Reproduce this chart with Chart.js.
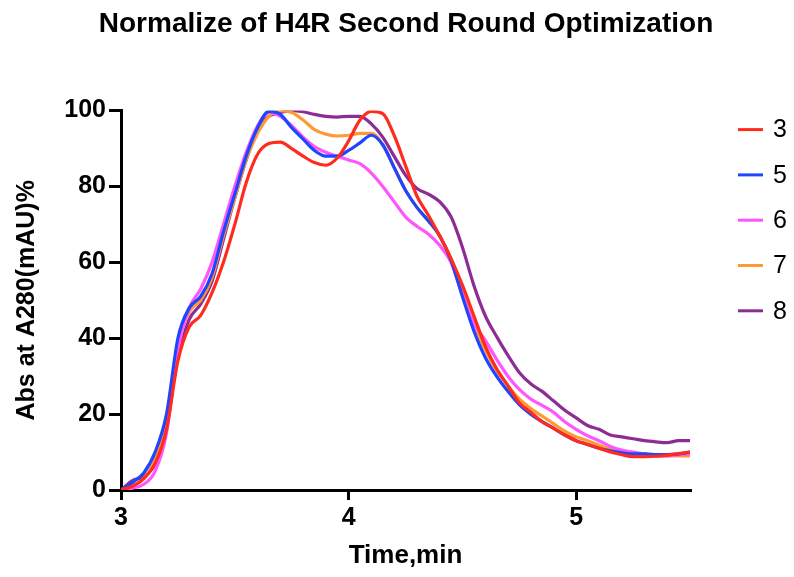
<!DOCTYPE html>
<html>
<head>
	<title>Normalize of H4R Second Round Optimization</title>
	<script src="https://cdn.jsdelivr.net/npm/chart.js@4.4.1/dist/chart.umd.min.js"></script>
	<style>
		body { margin: 0; background: #fff; }
		#wrap { width: 794px; height: 577px; }
	</style>
</head>
<body>
	<div id="wrap">
		<canvas id="chart"></canvas>
	</div>

	<script type="text/javascript">
		// elution time (min)
		var timeMin = [3.00, 3.05, 3.10, 3.15, 3.20, 3.25, 3.30, 3.35, 3.40, 3.45,
			3.50, 3.55, 3.60, 3.65, 3.70, 3.75, 3.80, 3.85, 3.90, 3.95,
			4.00, 4.05, 4.10, 4.15, 4.20, 4.25, 4.30, 4.35, 4.40, 4.45,
			4.50, 4.55, 4.60, 4.65, 4.70, 4.75, 4.80, 4.85, 4.90, 4.95,
			5.00, 5.05, 5.10, 5.15, 5.20, 5.25, 5.30, 5.35, 5.40, 5.45, 5.50];

		// normalized A280 (%) for each run
		var run3 = [0, 1, 3, 7, 16, 34, 43, 46, 52, 60,
			70, 81, 88.5, 91.3, 91.7, 90, 88, 86.3, 85.6, 87.5,
			92, 97.5, 99.8, 99.2, 93.5, 85.5, 77.5, 72.5, 67, 61,
			54, 46, 38, 32, 27.5, 23, 20.5, 18, 16.3, 14.5,
			13, 12, 11, 10, 9.3, 8.8, 8.8, 8.9, 9.2, 9.6, 10];
		var run5 = [0, 2, 4.5, 10, 20, 40, 48, 51, 57, 68,
			78, 88, 95.5, 99.8, 99, 95.5, 92.5, 89.5, 88, 88,
			89.5, 91.5, 93.5, 91, 85, 79, 74.5, 71, 67, 60.5,
			51, 42, 35, 30, 26, 22.5, 20, 18, 16.3, 14.5,
			13, 12, 11, 10.3, 9.8, 9.5, 9.5, 9.3, 9.3, 9.5, 10];
		var run6 = [0, 0.5, 1.5, 5, 15, 37, 48, 53, 60, 70,
			80, 89, 96, 99.5, 98.5, 96, 93, 90.5, 89, 88,
			87, 86, 83.5, 80, 76, 72, 69.5, 67.5, 64.5, 60,
			51.5, 44, 39.5, 34.5, 30, 26.5, 24, 22.3, 20.5, 18,
			16, 14.3, 13, 11.5, 10.5, 10, 9.5, 9, 9, 9.3, 9.5];
		var run7 = [0, 1, 3, 8, 18, 38, 47, 50, 56, 67,
			77, 87, 94, 98.5, 100, 99.5, 97.5, 95, 93.8, 93.3,
			93.5, 94, 94, 91, 85, 79, 74.5, 71, 67, 61,
			52, 44, 37, 31.5, 27.5, 24, 21.5, 19.5, 17.5, 15.5,
			14, 13, 11.8, 10.8, 10, 9.7, 9.5, 9.3, 9, 9, 9];
		var run8 = [0, 2.5, 3.5, 7, 17, 35, 45, 49, 55, 66,
			77, 87, 95, 98.5, 99.5, 100, 99.7, 99, 98.5, 98.3,
			98.5, 98.5, 96.5, 93, 88, 83, 79.5, 78, 76, 72,
			64, 54, 46, 40.5, 35.5, 31, 28, 26, 23.5, 21,
			19, 17, 16, 14.5, 14, 13.5, 13, 12.7, 12.5, 13, 13];

		var runNames = ['3', '5', '6', '7', '8'];
		var runColors = ['#ff2b1c', '#1f45ff', '#ff55ff', '#ff9933', '#8e2c96'];
		var runData = [run3, run5, run6, run7, run8];

		function toPoints(values) {
			return values.map(function (v, i) { return { x: timeMin[i], y: v }; });
		}

		var datasets = runData.map(function (values, i) {
			return {
				label: runNames[i],
				data: toPoints(values),
				borderColor: runColors[i],
				backgroundColor: runColors[i],
				borderWidth: 3.2,
				pointRadius: 0,
				fill: false,
				cubicInterpolationMode: 'monotone'
			};
		});

		// legend column on the right: reserves a layout box, then draws line + run number
		var sideLegend = {
			id: 'sideLegend',
			beforeInit: function (chart) {
				Chart.layouts.addBox(chart, {
					position: 'right',
					weight: 0,
					fullSize: false,
					options: {},
					isHorizontal: function () { return false; },
					update: function (maxWidth, maxHeight) {
						this.width = 104;
						this.height = maxHeight;
					},
					draw: function () {}
				});
			},
			afterDraw: function (chart) {
				var ctx = chart.ctx;
				var x0 = chart.chartArea.right + 48;
				ctx.save();
				ctx.font = '25px "Liberation Sans", Arial, sans-serif';
				ctx.textBaseline = 'middle';
				ctx.fillStyle = '#000';
				chart.data.datasets.forEach(function (ds, i) {
					var y = chart.chartArea.top + 19 + i * 45.3;
					ctx.strokeStyle = ds.borderColor;
					ctx.lineWidth = 3;
					ctx.beginPath();
					ctx.moveTo(x0, y);
					ctx.lineTo(x0 + 25, y);
					ctx.stroke();
					ctx.fillText(ds.label, x0 + 35, y + 1);
				});
				ctx.restore();
			}
		};

		Chart.defaults.font.family = '"Liberation Sans", Arial, sans-serif';
		Chart.defaults.color = '#000';

		var config = {
			type: 'line',
			data: { datasets: datasets },
			options: {
				responsive: true,
				maintainAspectRatio: false,
				animation: false,
				layout: { padding: { left: 18 } },
				plugins: {
					legend: { display: false },
					tooltip: { enabled: false },
					title: {
						display: true,
						text: 'Normalize of H4R Second Round Optimization',
						font: { size: 28, weight: 'bold' },
						color: '#000',
						padding: { top: 7, bottom: 70 }
					}
				},
				scales: {
					x: {
						type: 'linear',
						min: 3,
						max: 5.5,
						ticks: { stepSize: 1, includeBounds: false, font: { size: 25, weight: 'bold' }, padding: 3 },
						grid: { drawOnChartArea: false, tickLength: 10, lineWidth: 3, color: '#000' },
						border: { color: '#000', width: 3 },
						title: { display: true, text: 'Time,min', font: { size: 26, weight: 'bold' }, padding: { top: 4, bottom: 6 } },
						afterFit: function (scale) { scale.height = 87; }
					},
					y: {
						min: 0,
						max: 100,
						ticks: { stepSize: 20, font: { size: 25, weight: 'bold' }, padding: 3 },
						grid: { drawOnChartArea: false, tickLength: 12, lineWidth: 3, color: '#000' },
						border: { color: '#000', width: 3 },
						title: { display: true, text: 'Abs at A280(mAU)%', font: { size: 25, weight: 'bold' }, padding: { top: -6, bottom: 0 } },
						afterFit: function (scale) { scale.width = 103; }
					}
				}
			},
			plugins: [sideLegend]
		};

		var ctx = document.getElementById('chart').getContext('2d');
		var chart = new Chart(ctx, config);
	</script>
</body>
</html>
